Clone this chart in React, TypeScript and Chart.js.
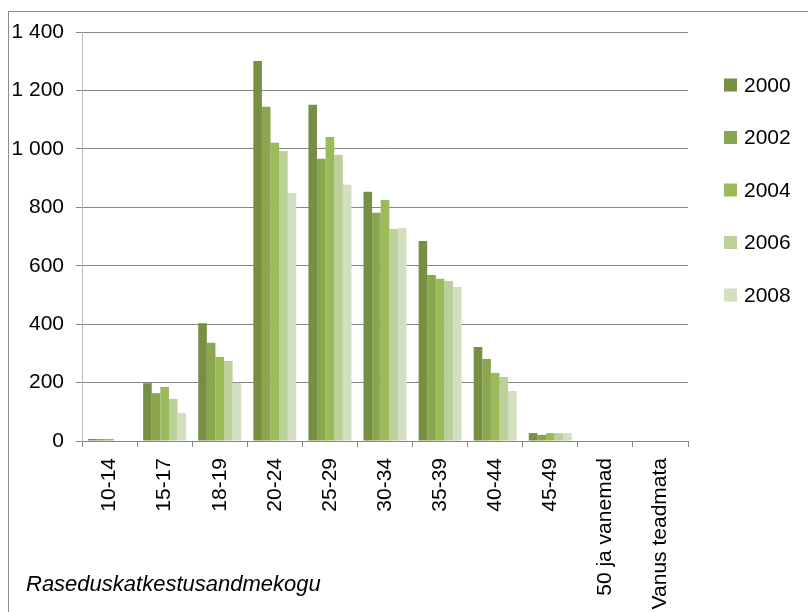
import React, { useEffect, useRef } from "react";
import { Chart, registerables } from "chart.js";

Chart.register(...registerables);

// Age groups on the category axis
const ageGroups = [
  "10-14",
  "15-17",
  "18-19",
  "20-24",
  "25-29",
  "30-34",
  "35-39",
  "40-44",
  "45-49",
  "50 ja vanemad",
  "Vanus teadmata",
];

// Number of abortions per age group, by year
const years = ["2000", "2002", "2004", "2006", "2008"];
const values2000 = [7, 198, 403, 1301, 1151, 853, 685, 322, 27, 0, 0];
const values2002 = [7, 164, 336, 1144, 966, 781, 568, 281, 21, 0, 0];
const values2004 = [7, 185, 288, 1021, 1041, 825, 555, 233, 27, 0, 0];
const values2006 = [0, 144, 274, 993, 979, 726, 548, 219, 27, 0, 0];
const values2008 = [0, 96, 199, 849, 877, 729, 527, 171, 27, 0, 0];

// Y axis range
const yMin = 0;
const yMax = 1400;
const yStep = 200;

const seriesValues = [values2000, values2002, values2004, values2006, values2008];
const seriesColors = ["#778F42", "#8AA64F", "#9BBB59", "#BCD09A", "#D3DFC1"];

const source = "Raseduskatkestusandmekogu";

const FONT = '"Liberation Sans", Arial, Helvetica, sans-serif';

const CANVAS_W = 799;
const CANVAS_H = 640;

// Legend on the right, one entry per year
const sideLegend = {
  id: "sideLegend",
  afterDraw(chart: any) {
    const ctx = chart.ctx;
    ctx.save();
    ctx.font = `21px ${FONT}`;
    ctx.textBaseline = "middle";
    ctx.textAlign = "left";
    chart.data.datasets.forEach((ds: any, i: number) => {
      const cy = 73 + i * 52.5;
      ctx.fillStyle = ds.backgroundColor;
      ctx.fillRect(715, cy - 6.5, 13, 13);
      ctx.fillStyle = "#000";
      ctx.fillText(ds.label, 735, cy + 1);
    });
    ctx.restore();
  },
};

function formatThousands(v: number) {
  return String(v).replace(/\B(?=(\d{3})+(?!\d))/g, " ");
}

export default function App() {
  const canvasRef = useRef<HTMLCanvasElement | null>(null);

  useEffect(() => {
    document.documentElement.style.overflow = "hidden";
    document.body.style.overflow = "hidden";
    const canvas = canvasRef.current;
    if (!canvas) return;

    const chart = new Chart(canvas, {
      type: "bar",
      data: {
        labels: ageGroups,
        datasets: years.map((y, i) => ({
          label: y,
          data: seriesValues[i],
          backgroundColor: seriesColors[i],
          borderWidth: 0,
          categoryPercentage: 0.78,
          barPercentage: 1,
        })),
      },
      options: {
        responsive: false,
        animation: false,
        events: [],
        layout: { padding: { top: 20, right: 120, bottom: 0, left: 0 } },
        plugins: {
          legend: { display: false },
          tooltip: { enabled: false },
          title: { display: false },
        },
        scales: {
          x: {
            grid: {
              display: true,
              drawOnChartArea: false,
              drawTicks: true,
              tickLength: 6,
              color: "#868686",
              offset: true,
            },
            border: { display: true, color: "#868686", width: 1 },
            ticks: {
              autoSkip: false,
              minRotation: 90,
              maxRotation: 90,
              padding: 11,
              color: "#000",
              font: { family: FONT, size: 21 },
            },
            afterFit(scale: any) {
              scale.height = CANVAS_H - 429;
            },
          },
          y: {
            min: yMin,
            max: yMax,
            grid: {
              color: "#868686",
              lineWidth: 1,
              drawTicks: true,
              tickLength: 6,
            },
            border: { display: true, color: "#B8B8B8", width: 1 },
            ticks: {
              stepSize: yStep,
              padding: 12,
              color: "#000",
              font: { family: FONT, size: 21, lineHeight: 1.0 },
              callback: (v: any) => formatThousands(Number(v)),
            },
            afterFit(scale: any) {
              scale.width = 73;
              scale.paddingTop = 0;
            },
          },
        },
      },
      plugins: [sideLegend],
    });

    return () => chart.destroy();
  }, []);

  return (
    <div
      style={{
        position: "absolute",
        left: 8,
        top: 11,
        width: 800,
        height: 601,
        boxSizing: "border-box",
        borderLeft: "1px solid #8C8C8C",
        borderTop: "1px solid #8C8C8C",
        overflow: "hidden",
        background: "#fff",
      }}
    >
      <canvas
        ref={canvasRef}
        width={CANVAS_W}
        height={CANVAS_H}
        style={{ position: "absolute", left: 0, top: 0, width: CANVAS_W, height: CANVAS_H }}
      />
      <div
        style={{
          position: "absolute",
          left: 17,
          top: 560,
          fontFamily: FONT,
          fontStyle: "italic",
          fontSize: 22,
          lineHeight: "24px",
          color: "#000",
          whiteSpace: "nowrap",
        }}
      >
        {source}
      </div>
    </div>
  );
}
